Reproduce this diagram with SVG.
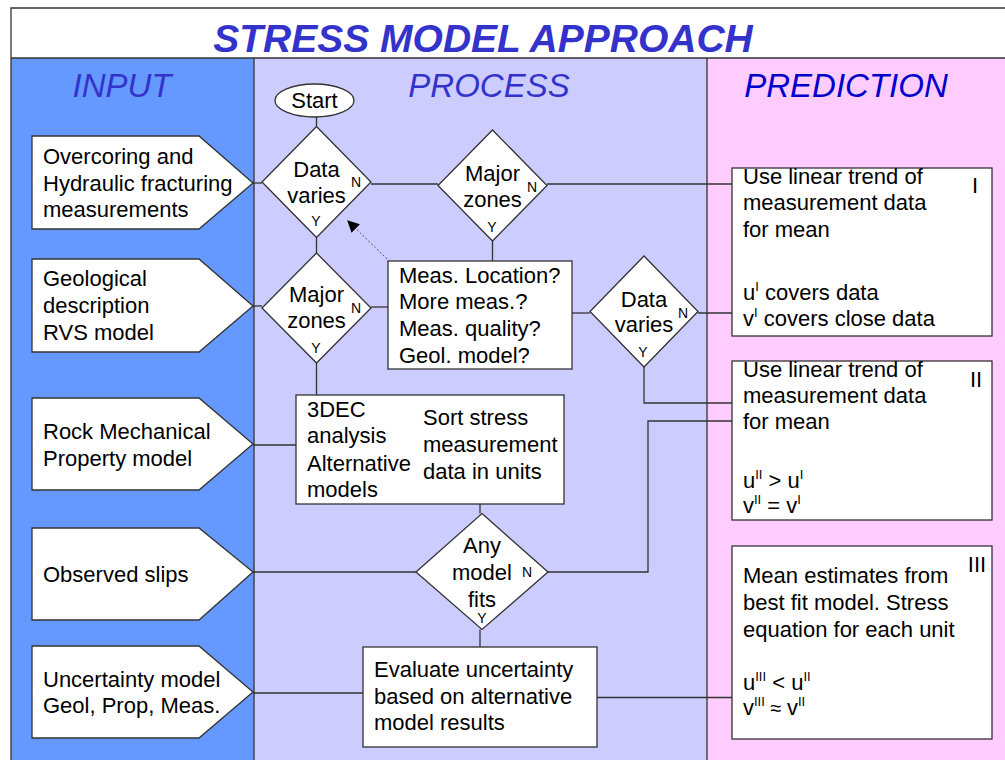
<svg xmlns="http://www.w3.org/2000/svg" width="1005" height="760" viewBox="0 0 1005 760">
  <defs>
    <style>
      text { font-family: "Liberation Sans", Arial, sans-serif; fill: #000; }
      .t { font-size: 22px; }
      .c { text-anchor: middle; }
      .yn { font-size: 14px; text-anchor: middle; }
      .sup { font-size: 13px; }
      .title { font-size: 39px; font-weight: bold; font-style: italic; fill: #3333CC; text-anchor: middle; }
      .head { font-size: 33px; font-style: italic; fill: #3333CC; text-anchor: middle; }
      .head.dark { fill: #0000CC; }
      .shape { fill: #fff; stroke: #333; stroke-width: 1.3; }
      .wire { fill: none; stroke: #333; stroke-width: 1.3; }
      .dot { fill: none; stroke: #555; stroke-width: 1; stroke-dasharray: 2 2; }
    </style>
    <marker id="arrow" viewBox="0 0 10 10" refX="9" refY="5" markerWidth="12" markerHeight="12" markerUnits="userSpaceOnUse" orient="auto">
      <path d="M0,0 L10,5 L0,10 z" fill="#000"/>
    </marker>
  </defs>

  <!-- page and swimlanes -->
  <rect x="0" y="0" width="1005" height="760" fill="#fff"/>
  <rect x="11" y="58" width="243" height="710" fill="#6699FF"/>
  <rect x="254" y="58" width="453" height="710" fill="#CCCCFF"/>
  <rect x="707" y="58" width="310" height="710" fill="#FFCCFF"/>
  <g class="wire">
    <path d="M11,768 V8 H1010"/>
    <path d="M11,58 H1010"/>
    <path d="M254,58 V768"/>
    <path d="M707,58 V768"/>
  </g>

  <text class="title" x="483" y="52">STRESS MODEL APPROACH</text>
  <text class="head" x="122" y="97">INPUT</text>
  <text class="head" x="489" y="97">PROCESS</text>
  <text class="head dark" x="846" y="97">PREDICTION</text>

  <!-- connectors -->
  <g id="connectors">
    <g class="wire">
      <path d="M316.5,117 V126.5"/>
      <path d="M253,183 H262"/>
      <path d="M371,184 H438"/>
      <path d="M547,184 H732"/>
      <path d="M316.5,237.5 V253"/>
      <path d="M253,306 H262"/>
      <path d="M371,307 H388"/>
      <path d="M492.5,241 V261"/>
      <path d="M572,313 H590"/>
      <path d="M698,313 H732"/>
      <path d="M644,367 V403 H732"/>
      <path d="M316.5,363 V395"/>
      <path d="M253,445 H296"/>
      <path d="M480,504 V513.5"/>
      <path d="M253,572 H416"/>
      <path d="M548,572 H648 V421 H732"/>
      <path d="M480,629.5 V647"/>
      <path d="M253,693 H363"/>
      <path d="M597,697.5 H732"/>
    </g>
    <path class="dot" d="M387,259 L348,221" marker-end="url(#arrow)"/>
  </g>

  <!-- inputs -->
  <g id="in-measurements">
    <polygon class="shape" points="32,136 199,136 253,183 199,229 32,229"/>
    <text class="t" x="43" y="164">Overcoring and</text>
    <text class="t" x="43" y="191">Hydraulic fracturing</text>
    <text class="t" x="43" y="217">measurements</text>
  </g>
  <g id="in-geology">
    <polygon class="shape" points="32,259 199,259 253,306 199,352 32,352"/>
    <text class="t" x="43" y="286">Geological</text>
    <text class="t" x="43" y="313">description</text>
    <text class="t" x="43" y="340">RVS model</text>
  </g>
  <g id="in-rock">
    <polygon class="shape" points="32,398 199,398 253,444 199,490 32,490"/>
    <text class="t" x="43" y="439">Rock Mechanical</text>
    <text class="t" x="43" y="466">Property model</text>
  </g>
  <g id="in-slips">
    <polygon class="shape" points="32,528 199,528 253,572 199,620 32,620"/>
    <text class="t" x="43" y="582">Observed slips</text>
  </g>
  <g id="in-uncertainty">
    <polygon class="shape" points="32,646 199,646 253,692 199,738 32,738"/>
    <text class="t" x="43" y="687">Uncertainty model</text>
    <text class="t" x="43" y="713">Geol, Prop, Meas.</text>
  </g>

  <!-- process -->
  <g id="start">
    <ellipse class="shape" cx="314.5" cy="100.5" rx="39.5" ry="16.5"/>
    <text class="t c" x="314.5" y="108">Start</text>
  </g>
  <g id="dec-data-varies-1">
    <polygon class="shape" points="316.5,126.5 371,182 316.5,237.5 262,182"/>
    <text class="t c" x="316.5" y="177">Data</text>
    <text class="t c" x="316.5" y="203">varies</text>
    <text class="yn" x="356" y="187">N</text>
    <text class="yn" x="316" y="226">Y</text>
  </g>
  <g id="dec-major-zones-1">
    <polygon class="shape" points="492.5,130 547,185.5 492.5,241 438,185.5"/>
    <text class="t c" x="492.5" y="181">Major</text>
    <text class="t c" x="492.5" y="207">zones</text>
    <text class="yn" x="532" y="192">N</text>
    <text class="yn" x="492" y="232">Y</text>
  </g>
  <g id="dec-major-zones-2">
    <polygon class="shape" points="316.5,253 371,308 316.5,363 262,308"/>
    <text class="t c" x="316.5" y="302">Major</text>
    <text class="t c" x="316.5" y="328">zones</text>
    <text class="yn" x="356" y="313">N</text>
    <text class="yn" x="316" y="353">Y</text>
  </g>
  <g id="checks">
    <rect class="shape" x="388" y="261" width="184" height="108"/>
    <text class="t" x="399" y="283">Meas. Location?</text>
    <text class="t" x="399" y="309">More meas.?</text>
    <text class="t" x="399" y="336">Meas. quality?</text>
    <text class="t" x="399" y="363">Geol. model?</text>
  </g>
  <g id="dec-data-varies-2">
    <polygon class="shape" points="644,256 698,311.5 644,367 590,311.5"/>
    <text class="t c" x="644" y="307">Data</text>
    <text class="t c" x="644" y="332">varies</text>
    <text class="yn" x="683" y="318">N</text>
    <text class="yn" x="643" y="357">Y</text>
  </g>
  <g id="analysis">
    <rect class="shape" x="296" y="395" width="268" height="109"/>
    <text class="t" x="307" y="417">3DEC</text>
    <text class="t" x="307" y="443">analysis</text>
    <text class="t" x="307" y="471">Alternative</text>
    <text class="t" x="307" y="497">models</text>
    <text class="t" x="423" y="425">Sort stress</text>
    <text class="t" x="423" y="452">measurement</text>
    <text class="t" x="423" y="479">data in units</text>
  </g>
  <g id="dec-model-fits">
    <polygon class="shape" points="482,513.5 548,572 482,629.5 416,572"/>
    <text class="t c" x="482" y="553">Any</text>
    <text class="t c" x="482" y="580">model</text>
    <text class="t c" x="482" y="607">fits</text>
    <text class="yn" x="527" y="577">N</text>
    <text class="yn" x="482" y="623">Y</text>
  </g>
  <g id="evaluate">
    <rect class="shape" x="363" y="647" width="234" height="100"/>
    <text class="t" x="374" y="677">Evaluate uncertainty</text>
    <text class="t" x="374" y="704">based on alternative</text>
    <text class="t" x="374" y="730">model results</text>
  </g>

  <!-- predictions -->
  <g id="pred-1">
    <rect class="shape" x="732" y="168" width="260" height="168"/>
    <text class="t" x="743" y="184">Use linear trend of</text>
    <text class="t" x="743" y="210">measurement data</text>
    <text class="t" x="743" y="237">for mean</text>
    <text class="t" x="743" y="300">u<tspan class="sup" dy="-9">I</tspan><tspan dy="9"> covers data</tspan></text>
    <text class="t" x="743" y="326">v<tspan class="sup" dy="-9">I</tspan><tspan dy="9"> covers close data</tspan></text>
    <text class="t c" x="975" y="193">I</text>
  </g>
  <g id="pred-2">
    <rect class="shape" x="732" y="361" width="260" height="159"/>
    <text class="t" x="743" y="377">Use linear trend of</text>
    <text class="t" x="743" y="403">measurement data</text>
    <text class="t" x="743" y="429">for mean</text>
    <text class="t" x="743" y="488">u<tspan class="sup" dy="-9">II</tspan><tspan dy="9"> &gt; u</tspan><tspan class="sup" dy="-9">I</tspan></text>
    <text class="t" x="743" y="513">v<tspan class="sup" dy="-9">II</tspan><tspan dy="9"> = v</tspan><tspan class="sup" dy="-9">I</tspan></text>
    <text class="t c" x="976" y="387">II</text>
  </g>
  <g id="pred-3">
    <rect class="shape" x="732" y="546" width="260" height="193"/>
    <text class="t" x="743" y="583">Mean estimates from</text>
    <text class="t" x="743" y="610">best fit model. Stress</text>
    <text class="t" x="743" y="637">equation for each unit</text>
    <text class="t" x="743" y="690">u<tspan class="sup" dy="-9">III</tspan><tspan dy="9"> &lt; u</tspan><tspan class="sup" dy="-9">II</tspan></text>
    <text class="t" x="743" y="715">v<tspan class="sup" dy="-9">III</tspan><tspan dy="9" font-size="20"> ≈ </tspan><tspan>v</tspan><tspan class="sup" dy="-9">II</tspan></text>
    <text class="t c" x="977" y="572">III</text>
  </g>
</svg>
